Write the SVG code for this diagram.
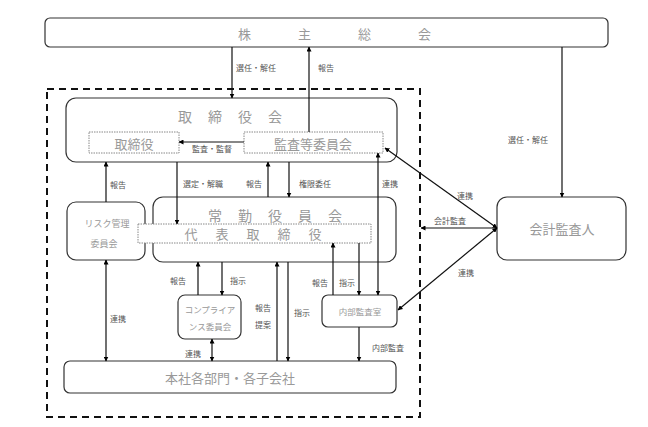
<svg xmlns="http://www.w3.org/2000/svg" width="648" height="427" viewBox="0 0 648 427">
<defs>
<marker id="ah" viewBox="0 0 10 10" refX="9" refY="5" markerWidth="5" markerHeight="5" orient="auto-start-reverse" markerUnits="userSpaceOnUse"><path d="M0,0 L10,5 L0,10 z" fill="#000"/></marker>
<style>
.box{fill:#fff;stroke:#333;stroke-width:1.2}
.dot{fill:#fff;stroke:#888;stroke-width:1;stroke-dasharray:1.5 1}
.t{font-family:"Noto Sans CJK JP","Noto Sans CJK SC",sans-serif;fill:#999;text-anchor:middle;dominant-baseline:central}
.l{font-family:"Noto Sans CJK JP","Noto Sans CJK SC",sans-serif;fill:#555;font-size:8px;text-anchor:middle;dominant-baseline:central}
.c line{stroke:#111;stroke-width:1.2}
.a{marker-end:url(#ah)}
.b{marker-start:url(#ah);marker-end:url(#ah)}
</style>
</defs>
<rect width="648" height="427" fill="#fff"/>
<rect x="47" y="89" width="373" height="328" fill="none" stroke="#111" stroke-width="2" stroke-dasharray="7 5"/>
<g id="shareholders"><rect class="box" x="45" y="18" width="563" height="29" rx="5"/><text class="t" x="358" y="33" font-size="13" letter-spacing="47">株主総会</text></g>
<g id="board"><rect class="box" x="66" y="98" width="331" height="64" rx="10"/><text class="t" x="238" y="116" font-size="14" letter-spacing="16">取締役会</text></g>
<g id="directors"><rect class="dot" x="89" y="132" width="90" height="21"/><text class="t" x="134" y="143" font-size="13">取締役</text></g>
<g id="audit-committee"><rect class="dot" x="244" y="132" width="139" height="21"/><text class="t" x="313" y="143" font-size="13">監査等委員会</text></g>
<g id="risk"><rect class="box" x="67" y="202" width="78" height="58" rx="9"/><text class="t" x="107" y="223" font-size="9">リスク管理</text><text class="t" x="104" y="243" font-size="9">委員会</text></g>
<g id="executive"><rect class="box" x="153" y="197" width="243" height="65" rx="10"/><text class="t" x="283" y="215" font-size="14" letter-spacing="16">常勤役員会</text></g>
<g id="ceo"><rect class="dot" x="138" y="224" width="233" height="19"/><text class="t" x="262" y="233" font-size="13" letter-spacing="18">代表取締役</text></g>
<g id="compliance"><rect class="box" x="178" y="295" width="63" height="44" rx="7"/><text class="t" x="210" y="309" font-size="8.5">コンプライア</text><text class="t" x="210" y="326" font-size="8.5">ンス委員会</text></g>
<g id="internal-audit"><rect class="box" x="322" y="295" width="75" height="32" rx="6"/><text class="t" x="360" y="311" font-size="8.5" fill="#555">内部監査室</text></g>
<g id="departments"><rect class="box" x="64" y="361" width="332" height="32" rx="6"/><text class="t" x="230" y="377" font-size="13">本社各部門・各子会社</text></g>
<g id="auditor"><rect class="box" x="497" y="197" width="129" height="63" rx="10"/><text class="t" x="562" y="228" font-size="13">会計監査人</text></g>
<g id="connectors" class="c">
<line class="a" x1="232" y1="47" x2="232" y2="98"/>
<line class="a" x1="309" y1="132" x2="309" y2="47"/>
<line class="a" x1="562" y1="47" x2="562" y2="197"/>
<line class="a" x1="244" y1="142" x2="179" y2="142"/>
<line class="a" x1="106" y1="202" x2="106" y2="162"/>
<line class="a" x1="177" y1="162" x2="177" y2="224"/>
<line class="a" x1="268" y1="197" x2="268" y2="162"/>
<line class="a" x1="289" y1="162" x2="289" y2="197"/>
<line class="b" x1="378" y1="153" x2="378" y2="295"/>
<line class="a" x1="333" y1="295" x2="333" y2="243"/>
<line class="a" x1="359" y1="243" x2="359" y2="295"/>
<line class="a" x1="359" y1="327" x2="359" y2="361"/>
<line class="b" x1="106" y1="260" x2="106" y2="361"/>
<line class="a" x1="198" y1="295" x2="198" y2="262"/>
<line class="a" x1="222" y1="262" x2="222" y2="295"/>
<line class="b" x1="212" y1="339" x2="212" y2="361"/>
<line class="a" x1="277" y1="361" x2="277" y2="262"/>
<line class="a" x1="288" y1="262" x2="288" y2="361"/>
<line class="b" x1="497" y1="228" x2="385" y2="148"/>
<line class="a" x1="497" y1="228" x2="421" y2="228"/>
<line class="b" x1="497" y1="228" x2="398" y2="310"/>
</g>
<g id="labels">
<text class="l" x="256" y="67">選任・解任</text>
<text class="l" x="326" y="67">報告</text>
<text class="l" x="528" y="139">選任・解任</text>
<text class="l" x="212" y="148">監査・監督</text>
<text class="l" x="118" y="184">報告</text>
<text class="l" x="203" y="183">選定・解職</text>
<text class="l" x="254" y="183">報告</text>
<text class="l" x="315" y="183">権限委任</text>
<text class="l" x="390" y="183">連携</text>
<text class="l" x="465" y="195">連携</text>
<text class="l" x="450" y="220">会計監査</text>
<text class="l" x="466" y="272">連携</text>
<text class="l" x="118" y="318">連携</text>
<text class="l" x="178" y="280">報告</text>
<text class="l" x="238" y="280">指示</text>
<text class="l" x="263" y="307">報告</text>
<text class="l" x="263" y="324">提案</text>
<text class="l" x="302" y="312">指示</text>
<text class="l" x="320" y="282">報告</text>
<text class="l" x="347" y="282">指示</text>
<text class="l" x="388" y="347">内部監査</text>
<text class="l" x="193" y="353">連携</text>
</g>
</svg>
